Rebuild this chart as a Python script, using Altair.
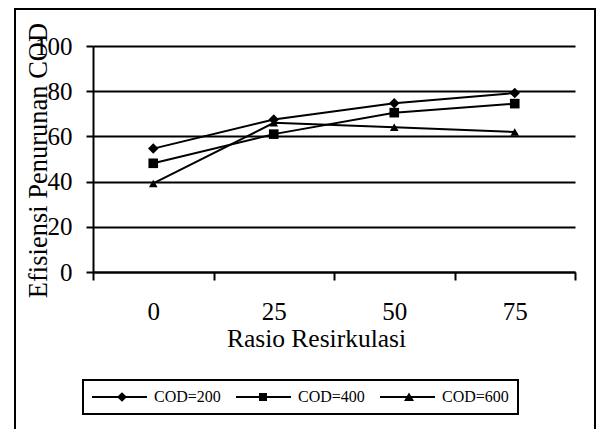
import altair as alt
import pandas as pd

rasio = ["0", "25", "50", "75"]
cod200 = [54.6, 67.5, 74.7, 79.2]
cod400 = [48.1, 61.0, 70.5, 74.5]
cod600 = [39.2, 66.0, 64.0, 62.0]
series_names = ["COD=200", "COD=400", "COD=600"]

rows = []
for name, vals in zip(series_names, [cod200, cod400, cod600]):
    for r, v in zip(rasio, vals):
        rows.append({"rasio": r, "eff": v, "series": name})
df = pd.DataFrame(rows)

FONT = "Liberation Serif"

x_enc = alt.X(
    "rasio:O",
    sort=rasio,
    scale=alt.Scale(type="band", paddingInner=0, paddingOuter=0),
    axis=alt.Axis(
        title="Rasio Resirkulasi",
        labelAngle=0,
        tickBand="extent",
        tickSize=8,
        labelPadding=19,
        labelFontSize=25,
        titleFontSize=25.5,
        titleX=223,
        titleY=74,
        titleAlign="center",
        titleBaseline="alphabetic",
        grid=False,
    ),
)
y_enc = alt.Y(
    "eff:Q",
    scale=alt.Scale(domain=[0, 100], nice=False),
    axis=alt.Axis(
        title="Efisiensi Penurunan COD",
        values=[0, 20, 40, 60, 80, 100],
        tickSize=7,
        labelPadding=14,
        labelFontSize=25,
        titleFontSize=26.5,
        titleX=-47,
        titleY=114,
        titleAngle=-90,
        titleAlign="center",
        titleBaseline="alphabetic",
        grid=True,
        gridColor="black",
        gridWidth=2,
        gridOpacity=1,
    ),
)

base = alt.Chart(df)

frame = alt.Chart(pd.DataFrame({"a": [0]})).mark_rect(
    fill="white", fillOpacity=0, stroke="black", strokeWidth=2
).encode(
    x=alt.value(-78), x2=alt.value(502), y=alt.value(-37), y2=alt.value(400)
)

lines = base.mark_line(color="black", strokeWidth=2).encode(
    x=x_enc, y=y_enc, detail="series:N"
)

points = base.mark_point(filled=True, color="black", opacity=1).encode(
    x=x_enc,
    y=y_enc,
    shape=alt.Shape(
        "series:N",
        scale=alt.Scale(domain=series_names, range=["diamond", "square", "triangle-up"]),
        legend=None,
    ),
    size=alt.Size(
        "series:N",
        scale=alt.Scale(domain=series_names, range=[110, 75, 110]),
        legend=None,
    ),
)

# legend symbols: a line with a marker on it (units of 5 px)
LINE = "M-1.6,-0.2H9.4V0.2H-1.6Z"
legend_paths = [
    LINE + "M4.4,-0.95L5.4,0L4.4,0.95L3.4,0Z",
    LINE + "M3.0,-0.8H4.6V0.8H3.0Z",
    LINE + "M4.2,-0.9L5.2,0.8H3.2Z",
]

legend_layer = base.mark_point(
    filled=True, color="black", opacity=1
).encode(
    x=x_enc,
    y=y_enc,
    shape=alt.Shape(
        "series:N",
        scale=alt.Scale(domain=series_names, range=legend_paths),
        legend=alt.Legend(
            title=None,
            orient="none",
            legendX=-10,
            legendY=334,
            direction="horizontal",
            padding=9,
            strokeColor="black",
            fillColor="white",
            symbolSize=100,
            symbolStrokeWidth=0,
            labelOffset=46,
            columnPadding=15,
            labelFont=FONT,
            labelFontSize=16,
            labelColor="black",
        ),
    ),
).transform_filter("false")

chart = (
    alt.layer(frame, lines, points, legend_layer)
    .resolve_scale(shape="independent")
    .properties(
        width=482,
        height=226,
        autosize=alt.AutoSizeParams(type="none"),
        padding={"left": 93, "top": 46, "right": 21, "bottom": 157},
        background="white",
    )
    .configure_view(strokeWidth=0)
    .configure_axis(
        labelFont=FONT,
        titleFont=FONT,
        labelColor="black",
        titleColor="black",
        titleFontWeight="normal",
        domainColor="black",
        domainWidth=2,
        tickColor="black",
        tickWidth=2,
    )
    .configure_legend(strokeWidth=2, cornerRadius=0)
)

chart.save("out.html", embed_options={"renderer": "svg", "actions": False})
